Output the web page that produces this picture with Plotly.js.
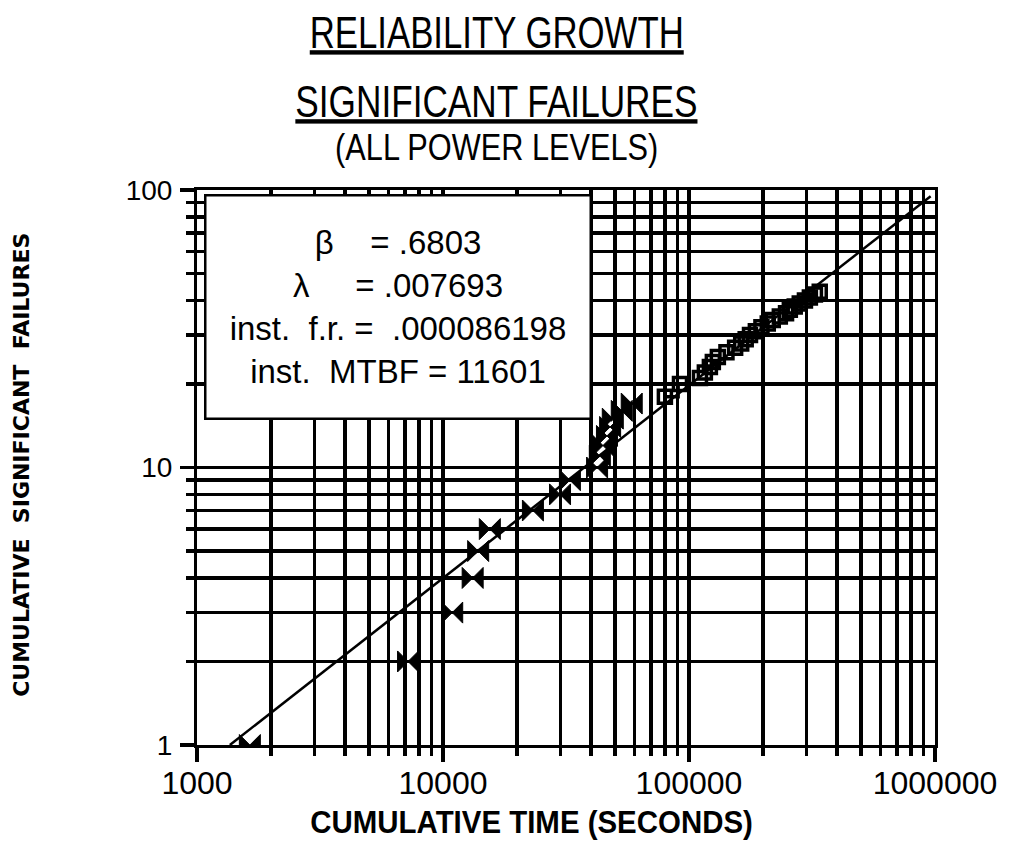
<!DOCTYPE html>
<html>
<head>
<meta charset="utf-8">
<script src="https://cdn.plot.ly/plotly-3.0.1.min.js"></script>
<style>html,body{margin:0;padding:0;background:#fff;}#chart{width:1010px;height:861px;}</style>
</head>
<body>
<div id="chart"></div>
<script>
// Cumulative time (seconds) and cumulative significant failures
const timeEarly = [1640, 7210, 10900, 13200, 13900, 15500, 23200, 29900, 32800, 42300, 43400, 44700, 46400, 47800, 49000, 53300, 58500];
const failEarly = [1, 2, 3, 4, 5, 6, 7, 8, 9, 10, 11, 12, 13, 14, 15, 16, 17];
const timeLate = [79800, 85000, 91900, 110800, 116000, 121600, 125000, 131000, 142000, 154000, 163000, 170000, 177000, 187000, 197000, 209000, 219000, 234000, 248000, 257000, 269000, 282000, 296000, 310000, 325000, 340000];
const failLate = [18, 19, 20, 21, 22, 23, 24, 25, 26, 27, 28, 29, 30, 31, 32, 33, 34, 35, 36, 37, 38, 39, 40, 41, 42, 43];
// Fitted growth line end points
const fitTime = [1360, 960000];
const fitFail = [1.0, 95];
// Tick labels
const xTickVals = [1000, 10000, 100000, 1000000];
const xTickText = ['1000', '10000', '100000', '1000000'];
const yTickVals = [1, 10, 100];
const yTickText = ['1', '10', '100'];
// Model parameters shown in the box
const paramLines = [
  'β\u00A0\u00A0\u00A0\u00A0= .6803',
  'λ\u00A0\u00A0\u00A0\u00A0\u00A0= .007693',
  'inst.\u00A0 f.r. = \u00A0.000086198',
  'inst.\u00A0 MTBF = 11601'
];

const traces = [
  {x: fitTime, y: fitFail, type: 'scatter', mode: 'lines', line: {color: '#000', width: 2.5}, hoverinfo: 'skip', showlegend: false},
  {x: timeEarly, y: failEarly, type: 'scatter', mode: 'markers', marker: {symbol: 'bowtie', size: 21, color: '#000', line: {color: '#000', width: 1}}, showlegend: false},
  {x: timeLate, y: failLate, type: 'scatter', mode: 'markers', marker: {symbol: 'square-open', size: 13, color: '#000', line: {color: '#000', width: 3.5}}, showlegend: false}
];

const axisCommon = {
  type: 'log',
  showline: true, linecolor: '#000', linewidth: 3, mirror: true,
  showgrid: true, gridcolor: '#000', gridwidth: 3.5,
  ticks: 'outside', ticklen: 14, tickwidth: 3.5, tickcolor: '#000',
  zeroline: false,
  minor: {dtick: 'D1', showgrid: true, gridcolor: '#000', gridwidth: 3.5, ticks: 'outside', ticklen: 8, tickwidth: 3.5, tickcolor: '#000'}
};

const layout = {
  width: 1010, height: 861,
  margin: {l: 197, r: 75, t: 190, b: 116, pad: 0},
  paper_bgcolor: '#fff', plot_bgcolor: '#fff',
  font: {family: 'Liberation Sans, Arial, sans-serif', color: '#000'},
  xaxis: Object.assign({}, axisCommon, {
    range: [3, 6], tickmode: 'array', tickvals: xTickVals, ticktext: xTickText,
    tickfont: {size: 32, color: '#000'}, ticklabelstandoff: -6
  }),
  yaxis: Object.assign({}, axisCommon, {
    range: [0, 2], tickmode: 'array', tickvals: yTickVals, ticktext: yTickText,
    tickfont: {size: 28, color: '#000'}, ticklabelstandoff: 2
  }),
  annotations: [
    {xref: 'paper', yref: 'paper', x: 0.0095, y: 0.9928, xanchor: 'left', yanchor: 'top',
     text: paramLines.join('<br>'), showarrow: false, align: 'center', valign: 'middle',
     width: 381, height: 219, bgcolor: '#fff', bordercolor: '#000', borderwidth: 2.5,
     font: {size: 33, color: '#000', family: 'Liberation Sans, Arial, sans-serif'}},
    {xref: 'paper', yref: 'paper', x: 0.4065, y: 1.283, xanchor: 'center', yanchor: 'middle',
     text: '<u>RELIABILITY GROWTH</u>', showarrow: false,
     font: {size: 44, family: 'Liberation Sans, sans-serif', color: '#000'}},
    {xref: 'paper', yref: 'paper', x: 0.4065, y: 1.160, xanchor: 'center', yanchor: 'middle',
     text: '<u>SIGNIFICANT FAILURES</u>', showarrow: false,
     font: {size: 44, family: 'Liberation Sans, sans-serif', color: '#000'}},
    {xref: 'paper', yref: 'paper', x: 0.4065, y: 1.0757, xanchor: 'center', yanchor: 'middle',
     text: '(ALL POWER LEVELS)', showarrow: false,
     font: {size: 37, family: 'Liberation Sans, sans-serif', color: '#000'}},
    {xref: 'paper', yref: 'paper', x: 0.453, y: -0.1387, xanchor: 'center', yanchor: 'middle',
     text: '<b>CUMULATIVE TIME (SECONDS)</b>', showarrow: false,
     font: {size: 32, family: 'Liberation Sans, sans-serif', color: '#000'}},
    {xref: 'paper', yref: 'paper', x: -0.237, y: 0.505, xanchor: 'center', yanchor: 'middle',
     text: '<b>CUMULATIVE\u00A0 SIGNIFICANT\u00A0 FAILURES</b>', showarrow: false, textangle: -90,
     font: {size: 22, family: 'DejaVu Sans, sans-serif', color: '#000'}}
  ]
};

// horizontal condensing of the narrow title lettering (annotation index -> x scale)
const condense = {1: 0.79, 2: 0.80, 3: 0.83, 4: 0.92};

Plotly.newPlot('chart', traces, layout, {displayModeBar: false, staticPlot: true}).then(function (gd) {
  const groups = gd.querySelectorAll('.annotation');
  Object.keys(condense).forEach(function (k) {
    const g = groups[+k];
    if (!g) return;
    const t = g.querySelector('text.annotation-text');
    if (!t) return;
    const bb = t.getBBox();
    const cx = bb.x + bb.width / 2;
    const s = condense[k];
    t.setAttribute('transform', 'translate(' + cx + ',0) scale(' + s + ',1) translate(' + (-cx) + ',0)');
  });
});
</script>
</body>
</html>
